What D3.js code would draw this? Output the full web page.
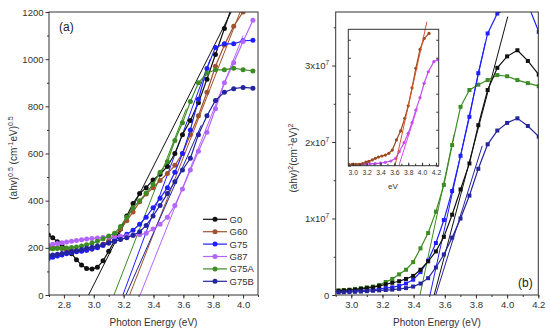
<!DOCTYPE html>
<html>
<head>
<meta charset="utf-8">
<script src="https://cdn.jsdelivr.net/npm/d3@7"></script>
<style>
  body { margin: 0; background: #fff; }
  svg { font-family: 'Liberation Sans', Arial, sans-serif; }
  .axis path, .axis line { stroke: #333; }
  .axis text { fill: #333; }
</style>
</head>
<body>
<div id="chart"></div>
<script>
// ---- panel (a): (ahv)^0.5 vs photon energy ----
const energyA = [2.696, 2.725, 2.756, 2.787, 2.818, 2.851, 2.884, 2.918, 2.952, 2.988,
  3.024, 3.062, 3.1, 3.139, 3.179, 3.221, 3.263, 3.307, 3.351, 3.397, 3.444, 3.493,
  3.543, 3.594, 3.647, 3.701, 3.758, 3.815, 3.875, 3.937, 4.0, 4.066];
const aG0 = [255, 243, 226, 212, 195, 175, 150, 127, 112, 110, 118, 145, 185, 230, 280,
  335, 388, 430, 455, 488, 512, 545, 600, 680, 740, 815, 915, 1020, 1130, 1245];
const aG60 = [205, 203, 200, 197, 193, 190, 188, 188, 190, 195, 203, 215, 230, 252, 280,
  315, 352, 395, 428, 455, 485, 515, 550, 600, 680, 760, 860, 970, 1060, 1140, 1200];
const aG75 = [155, 160, 165, 170, 175, 180, 183, 186, 190, 195, 200, 210, 220, 232, 245,
  258, 275, 300, 330, 370, 410, 455, 520, 600, 700, 830, 960, 1050, 1065, 1065, 1078, 1080];
const aG87 = [212, 215, 218, 222, 225, 228, 231, 234, 237, 240, 242, 244, 246, 248, 249,
  250, 252, 255, 262, 280, 300, 330, 380, 450, 530, 610, 690, 790, 900, 985, 1075, 1165];
const aG75A = [195, 196, 197, 198, 199, 201, 204, 208, 213, 220, 228, 238, 250, 262, 290,
  330, 370, 400, 432, 470, 520, 565, 655, 730, 820, 900, 940, 955, 955, 962, 955, 950];
const aG75B = [168, 170, 173, 176, 180, 184, 188, 193, 198, 203, 208, 214, 220, 227, 235,
  243, 253, 268, 295, 335, 380, 430, 480, 530, 580, 680, 760, 825, 860, 875, 880, 877];
// linear fits: [E at zero, E at end, value at end]
const aFitG0 = [2.965, 3.92, 1200];
const aFitG60 = [3.24, 3.98, 1200];
const aFitG75 = [3.195, 3.78, 1000];
const aFitG87 = [3.31, 4.0, 1100];
const aFitG75A = [3.135, 3.62, 790];
const aFitG75B = [3.215, 3.72, 720];
const aXTicks = [2.8, 3.0, 3.2, 3.4, 3.6, 3.8, 4.0];
const aYTicks = [0, 200, 400, 600, 800, 1000, 1200];

// ---- panel (b): (ahv)^2 vs photon energy, values in 1e7 ----
const energyB = [2.918, 2.952, 2.988, 3.024, 3.062, 3.1, 3.139, 3.179, 3.221, 3.263,
  3.307, 3.351, 3.397, 3.444, 3.493, 3.543, 3.594, 3.647, 3.701, 3.758, 3.815, 3.875,
  3.937, 4.0, 4.066, 4.133, 4.203];
const bG0 = [0.055, 0.06, 0.065, 0.07, 0.08, 0.09, 0.1, 0.12, 0.14, 0.16, 0.18, 0.21, 0.25,
  0.33, 0.44, 0.57, 0.76, 1.05, 1.38, 1.72, 2.22, 2.68, 2.97, 3.12, 3.2, 3.06, 2.88];
const bG75 = [0.04, 0.045, 0.05, 0.055, 0.06, 0.065, 0.07, 0.08, 0.09, 0.1, 0.12, 0.15, 0.2,
  0.3, 0.45, 0.68, 0.98, 1.36, 1.82, 2.33, 2.9, 3.42, 3.68, 3.75, 3.9, 3.8, 3.44];
const bG75A = [0.06, 0.065, 0.07, 0.08, 0.09, 0.1, 0.11, 0.13, 0.17, 0.21, 0.27, 0.33, 0.43,
  0.61, 0.81, 1.09, 1.44, 1.96, 2.46, 2.68, 2.75, 2.81, 2.875, 2.86, 2.81, 2.77, 2.73];
const bG75B = [0.035, 0.037, 0.04, 0.042, 0.045, 0.05, 0.055, 0.06, 0.065, 0.07, 0.08, 0.09,
  0.11, 0.15, 0.22, 0.36, 0.53, 0.75, 1.0, 1.3, 1.65, 1.97, 2.15, 2.25, 2.31, 2.21, 2.07];
const bFitG0 = [3.532, 4.004, 3.64];
const bFitG75 = [3.505, 3.86, 3.3];
const bFitG75A = [3.441, 3.66, 2.1];
const bFitG75B = [3.542, 3.84, 1.95];
const bXTicks = [3.0, 3.2, 3.4, 3.6, 3.8, 4.0, 4.2];
const bYTicks = [0, 1, 2, 3];

// ---- inset of (b) ----
const insetE60 = [2.94, 2.99, 3.04, 3.09, 3.14, 3.19, 3.23, 3.28, 3.325, 3.37, 3.42, 3.47,
  3.52, 3.57, 3.63, 3.69, 3.75, 3.80, 3.855, 3.91, 3.97, 4.03, 4.10];
const insetG60 = [0.07, 0.07, 0.07, 0.08, 0.12, 0.2, 0.24, 0.32, 0.41, 0.48, 0.54, 0.59,
  0.69, 0.87, 1.43, 1.93, 2.63, 3.33, 4.33, 5.41, 6.46, 7.07, 7.35];
const insetE87 = [2.94, 3.0, 3.06, 3.12, 3.18, 3.25, 3.325, 3.40, 3.47, 3.55, 3.62, 3.67,
  3.74, 3.80, 3.855, 3.91, 3.97, 4.03, 4.09, 4.17, 4.23];
const insetG87 = [0.05, 0.05, 0.05, 0.06, 0.08, 0.1, 0.12, 0.14, 0.19, 0.26, 0.41, 0.78,
  1.28, 1.8, 2.39, 3.09, 3.78, 4.58, 5.22, 5.78, 5.9];
const insetFitG60 = [3.61, 4.07, 8.0];
const insetFitG87 = [3.665, 3.93, 3.2];
const insetXTicks = [3.0, 3.2, 3.4, 3.6, 3.8, 4.0, 4.2];
const insetYTicks = [0, 1, 2, 3, 4, 5, 6, 7];

const names = ['G0', 'G60', 'G75', 'G87', 'G75A', 'G75B'];
const colors = {
  G0: '#111111', G60: '#a0522d', G75: '#1f1fff',
  G87: '#b366ff', G75A: '#3c8c23', G75B: '#24249e',
};

const svgWidth = 550;
const svgHeight = 333;

const svg = d3.select('#chart')
  .append('svg')
  .attr('width', svgWidth)
  .attr('height', svgHeight);

// Scales
const xA = d3.scaleLinear().domain([2.7, 4.1]).range([49, 258]);
const yA = d3.scaleLinear().domain([0, 1200]).range([295, 12]);
const xB = d3.scaleLinear().domain([2.9, 4.2]).range([335.7, 538.3]);
const yB = d3.scaleLinear().domain([0, 3.7]).range([295, 12]);
const xI = d3.scaleLinear().domain([2.935, 4.24]).range([348.3, 438.7]);
const yI = d3.scaleLinear().domain([0, 7.58]).range([165.7, 29.3]);

// clip paths
const defs = svg.append('defs');
defs.append('clipPath').attr('id', 'clipA').append('rect')
  .attr('x', 49).attr('y', 12).attr('width', 209).attr('height', 283);
defs.append('clipPath').attr('id', 'clipB').append('rect')
  .attr('x', 335.7).attr('y', 12).attr('width', 202.6).attr('height', 283);
defs.append('clipPath').attr('id', 'clipI').append('rect')
  .attr('x', 348.3).attr('y', 29.3).attr('width', 90.4).attr('height', 136.4);

function drawSeries(g, x, y, xs, ys, color, marker, size) {
  const pts = ys.map((v, i) => [xs[i], v]);
  g.append('path')
    .datum(pts)
    .attr('fill', 'none')
    .attr('stroke', color)
    .attr('stroke-width', 1.2)
    .attr('d', d3.line().x((d) => x(d[0])).y((d) => y(d[1])));
  if (marker === 'square') {
    g.selectAll(null)
      .data(pts)
      .enter()
      .append('rect')
      .attr('x', (d) => x(d[0]) - size)
      .attr('y', (d) => y(d[1]) - size)
      .attr('width', size * 2)
      .attr('height', size * 2)
      .attr('fill', color);
  } else {
    g.selectAll(null)
      .data(pts)
      .enter()
      .append('circle')
      .attr('cx', (d) => x(d[0]))
      .attr('cy', (d) => y(d[1]))
      .attr('r', size)
      .attr('fill', color);
  }
}

function drawFit(g, x, y, fit, color) {
  g.append('line')
    .attr('x1', x(fit[0])).attr('y1', y(0))
    .attr('x2', x(fit[1])).attr('y2', y(fit[2]))
    .attr('stroke', color)
    .attr('stroke-width', 1);
}

function frame(x0, y0, x1, y1) {
  svg.append('rect')
    .attr('x', x0).attr('y', y0)
    .attr('width', x1 - x0).attr('height', y1 - y0)
    .attr('fill', 'none')
    .attr('stroke', '#333')
    .attr('stroke-width', 1);
}

// ========== panel (a) ==========
const gA = svg.append('g').attr('clip-path', 'url(#clipA)');
const aData = { G0: aG0, G60: aG60, G75: aG75, G87: aG87, G75A: aG75A, G75B: aG75B };
const aFits = { G0: aFitG0, G60: aFitG60, G75: aFitG75, G87: aFitG87, G75A: aFitG75A, G75B: aFitG75B };
names.forEach((n) => drawFit(gA, xA, yA, aFits[n], colors[n]));
names.forEach((n) => drawSeries(gA, xA, yA, energyA, aData[n], colors[n], 'circle', 2.5));

// axes (a)
svg.append('g')
  .attr('class', 'axis')
  .attr('transform', 'translate(0,295)')
  .call(d3.axisBottom(xA).tickValues(d3.range(2.7, 4.101, 0.1)).tickSize(2).tickFormat(''))
  .call((g) => g.select('.domain').remove());
svg.append('g')
  .attr('class', 'axis')
  .attr('transform', 'translate(0,295)')
  .call(d3.axisBottom(xA).tickValues(aXTicks).tickSize(3.5).tickPadding(3).tickFormat(d3.format('.1f')))
  .call((g) => g.select('.domain').remove())
  .selectAll('text').attr('font-size', '9.5px');
svg.append('g')
  .attr('class', 'axis')
  .attr('transform', 'translate(49,0)')
  .call(d3.axisLeft(yA).tickValues(d3.range(100, 1200, 200)).tickSize(2).tickFormat(''))
  .call((g) => g.select('.domain').remove());
svg.append('g')
  .attr('class', 'axis')
  .attr('transform', 'translate(49,0)')
  .call(d3.axisLeft(yA).tickValues(aYTicks).tickSize(3.5).tickPadding(2).tickFormat(d3.format('d')))
  .call((g) => g.select('.domain').remove())
  .selectAll('text').attr('font-size', '9.5px');
frame(49, 12, 258, 295);

svg.append('text')
  .attr('x', 59).attr('y', 31)
  .attr('font-size', '12px').attr('fill', '#222')
  .text('(a)');

// legend (a)
const legend = svg.append('g');
names.forEach((n, i) => {
  const ly = 219.3 + i * 12.4;
  legend.append('line')
    .attr('x1', 203).attr('x2', 227).attr('y1', ly).attr('y2', ly)
    .attr('stroke', colors[n]).attr('stroke-width', 1.2);
  legend.append('circle')
    .attr('cx', 215).attr('cy', ly).attr('r', 2.5).attr('fill', colors[n]);
  legend.append('text')
    .attr('x', 229.5).attr('y', ly + 3.4)
    .attr('font-size', '9.5px').attr('fill', '#333')
    .text(n);
});

// axis titles (a)
svg.append('text')
  .attr('x', 153.5).attr('y', 326)
  .attr('text-anchor', 'middle')
  .attr('font-size', '10px').attr('fill', '#333')
  .text('Photon Energy (eV)');

function yTitle(cx, cy, parts) {
  const t = svg.append('text')
    .attr('transform', `translate(${cx},${cy}) rotate(-90)`)
    .attr('text-anchor', 'middle')
    .attr('font-size', '10px').attr('fill', '#333');
  let shift = 0;
  parts.forEach((p) => {
    const sup = p[1];
    const dy = sup ? -4 - shift : -shift;
    shift = sup ? -4 : 0;
    t.append('tspan')
      .attr('dy', dy)
      .attr('font-size', sup ? '7px' : '10px')
      .text(p[0]);
  });
}
yTitle(17, 158, [['(ahv)', 0], ['0.5', 1], [' (cm', 0], ['-1', 1], ['eV)', 0], ['0.5', 1]]);

// ========== panel (b) ==========
const gB = svg.append('g').attr('clip-path', 'url(#clipB)');
const bNames = ['G75A', 'G75', 'G0', 'G75B'];
const bData = { G0: bG0, G75: bG75, G75A: bG75A, G75B: bG75B };
const bFits = { G0: bFitG0, G75: bFitG75, G75A: bFitG75A, G75B: bFitG75B };
bNames.forEach((n) => drawFit(gB, xB, yB, bFits[n], colors[n]));
bNames.forEach((n) => drawSeries(gB, xB, yB, energyB, bData[n], colors[n], 'square', 2));

svg.append('g')
  .attr('class', 'axis')
  .attr('transform', 'translate(0,295)')
  .call(d3.axisBottom(xB).tickValues(d3.range(2.9, 4.201, 0.1)).tickSize(2).tickFormat(''))
  .call((g) => g.select('.domain').remove());
svg.append('g')
  .attr('class', 'axis')
  .attr('transform', 'translate(0,295)')
  .call(d3.axisBottom(xB).tickValues(bXTicks).tickSize(3.5).tickPadding(3).tickFormat(d3.format('.1f')))
  .call((g) => g.select('.domain').remove())
  .selectAll('text').attr('font-size', '9.5px');
svg.append('g')
  .attr('class', 'axis')
  .attr('transform', 'translate(335.7,0)')
  .call(d3.axisLeft(yB).tickValues([0.5, 1.5, 2.5, 3.5]).tickSize(2).tickFormat(''))
  .call((g) => g.select('.domain').remove());
const yAxisB = svg.append('g')
  .attr('class', 'axis')
  .attr('transform', 'translate(335.7,0)')
  .call(d3.axisLeft(yB).tickValues(bYTicks).tickSize(3.5).tickPadding(3))
  .call((g) => g.select('.domain').remove());
yAxisB.selectAll('text')
  .attr('font-size', '9.5px')
  .each(function (d) {
    const t = d3.select(this).text(null);
    if (d === 0) {
      t.text('0');
    } else {
      t.append('tspan').text(`${d}x10`);
      t.append('tspan').attr('dy', -4).attr('font-size', '6.5px').text('7');
    }
  });
frame(335.7, 12, 538.3, 295);

svg.append('text')
  .attr('x', 518).attr('y', 287)
  .attr('font-size', '12px').attr('fill', '#222')
  .text('(b)');

svg.append('text')
  .attr('x', 437).attr('y', 326)
  .attr('text-anchor', 'middle')
  .attr('font-size', '10px').attr('fill', '#333')
  .text('Photon Energy (eV)');
yTitle(297, 158, [['(ahv)', 0], ['2', 1], ['(cm', 0], ['-1', 1], ['eV)', 0], ['2', 1]]);

// ========== inset ==========
svg.append('rect')
  .attr('x', 348.3).attr('y', 29.3)
  .attr('width', 90.4).attr('height', 136.4)
  .attr('fill', '#fff');
const gI = svg.append('g').attr('clip-path', 'url(#clipI)');
drawSeries(gI, xI, yI, insetE87, insetG87, '#c14cf0', 'circle', 1.6);
drawSeries(gI, xI, yI, insetE60, insetG60, '#9a4a22', 'circle', 1.6);
drawFit(svg, xI, yI, insetFitG87, '#d44cf0');
drawFit(svg, xI, yI, insetFitG60, '#d2552a');

svg.append('g')
  .attr('class', 'axis')
  .attr('transform', 'translate(0,165.7)')
  .call(d3.axisBottom(xI).tickValues(d3.range(3.0, 4.201, 0.1)).tickSize(-2).tickFormat(''))
  .call((g) => g.select('.domain').remove());
svg.append('g')
  .attr('class', 'axis')
  .attr('transform', 'translate(0,165.7)')
  .call(d3.axisBottom(xI).tickValues(insetXTicks).tickSize(-3).tickPadding(4).tickFormat(d3.format('.1f')))
  .call((g) => g.select('.domain').remove())
  .selectAll('text').attr('font-size', '6.8px');
svg.append('g')
  .attr('class', 'axis')
  .attr('transform', 'translate(348.3,0)')
  .call(d3.axisRight(yI).tickValues(insetYTicks).tickSize(2.5).tickFormat(''))
  .call((g) => g.select('.domain').remove());
svg.append('g')
  .attr('class', 'axis')
  .attr('transform', 'translate(438.7,0)')
  .call(d3.axisLeft(yI).tickValues(insetYTicks).tickSize(2.5).tickFormat(''))
  .call((g) => g.select('.domain').remove());
frame(348.3, 29.3, 438.7, 165.7);

svg.append('text')
  .attr('x', 393).attr('y', 189)
  .attr('text-anchor', 'middle')
  .attr('font-size', '8px').attr('fill', '#333')
  .text('eV');
</script>
</body>
</html>
